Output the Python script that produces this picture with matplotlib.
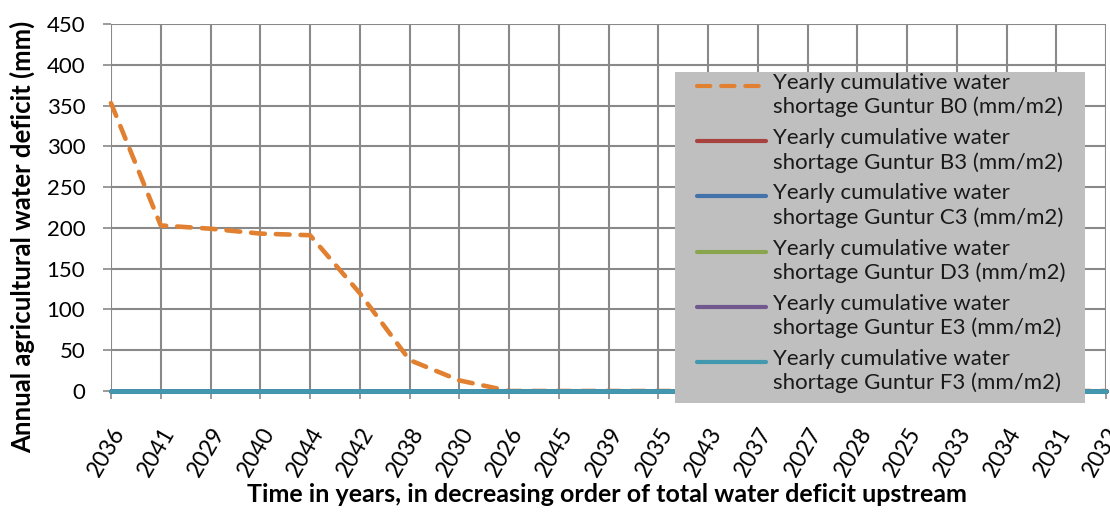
import matplotlib
matplotlib.use('Agg')
import matplotlib.pyplot as plt
import matplotlib.transforms as mtransforms
from matplotlib.lines import Line2D
from matplotlib.patches import Rectangle

plt.rcParams['font.family'] = ['Lato', 'DejaVu Sans']

years = ['2036', '2041', '2029', '2040', '2044', '2042', '2038', '2030', '2026', '2045',
         '2039', '2035', '2043', '2037', '2027', '2028', '2025', '2033', '2034', '2031', '2032']
b0 = [353, 203, 199, 193, 191, 120, 38, 13, 0, 0, 0, 0, 0, 0, 0, 0, 0, 0, 0, 0, 0]
b3 = [0, 0, 0, 0, 0, 0, 0, 0, 0, 0, 0, 0, 0, 0, 0, 0, 0, 0, 0, 0, 0]
c3 = [0, 0, 0, 0, 0, 0, 0, 0, 0, 0, 0, 0, 0, 0, 0, 0, 0, 0, 0, 0, 0]
d3 = [0, 0, 0, 0, 0, 0, 0, 0, 0, 0, 0, 0, 0, 0, 0, 0, 0, 0, 0, 0, 0]
e3 = [0, 0, 0, 0, 0, 0, 0, 0, 0, 0, 0, 0, 0, 0, 0, 0, 0, 0, 0, 0, 0]
f3 = [0, 0, 0, 0, 0, 0, 0, 0, 0, 0, 0, 0, 0, 0, 0, 0, 0, 0, 0, 0, 0]
series = [b0, b3, c3, d3, e3, f3]
names = ['Yearly cumulative water\nshortage Guntur B0 (mm/m2)',
         'Yearly cumulative water\nshortage Guntur B3 (mm/m2)',
         'Yearly cumulative water\nshortage Guntur C3 (mm/m2)',
         'Yearly cumulative water\nshortage Guntur D3 (mm/m2)',
         'Yearly cumulative water\nshortage Guntur E3 (mm/m2)',
         'Yearly cumulative water\nshortage Guntur F3 (mm/m2)']
colors = ['#E08030', '#A8423F', '#4372AA', '#89A54E', '#71588F', '#4198AF']
yticks = [0, 50, 100, 150, 200, 250, 300, 350, 400, 450]

W, H = 1110, 518
fig = plt.figure(figsize=(W / 100, H / 100), dpi=100)
ax = fig.add_axes([111 / W, 1 - 391 / H, 995 / W, 367 / H])

x = list(range(len(years)))
grid_c = '#898989'
for i, (s, c) in enumerate(zip(series, colors)):
    if i == 0:
        ax.plot(x, s, color=c, lw=3.3, dashes=(3.0, 2.4), dash_capstyle='round',
                solid_capstyle='round', zorder=3, clip_on=False)
    else:
        ax.plot(x, s, color=c, lw=3.4, solid_capstyle='round', zorder=3, clip_on=False)

ax.set_xlim(0, len(years) - 1)
ax.set_ylim(0, 450)
ax.set_yticks(yticks)
ax.set_yticklabels([str(v) for v in yticks], fontsize=16)
ax.set_xticks(x)
ax.set_xticklabels(years, rotation=60, ha='right', rotation_mode='anchor', fontsize=16.5)
shift = mtransforms.ScaledTranslation(-4 / 100, 0, fig.dpi_scale_trans)
for lab in ax.get_xticklabels():
    lab.set_transform(lab.get_transform() + shift)
ax.grid(True, color=grid_c, lw=1.5)
ax.set_axisbelow(True)
for sp in ax.spines.values():
    sp.set_visible(False)
ax.tick_params(axis='both', color=grid_c, width=1.2, length=5.5)
ax.tick_params(axis='y', pad=13)
ax.tick_params(axis='x', pad=18)

ax.set_ylabel('Annual agricultural water deficit (mm)', fontsize=18.5, fontweight='bold',
              va='center', ha='center')
ax.yaxis.set_label_coords((22 - 111) / 995, (391 - 237) / 367)
ax.set_xlabel('Time in years, in decreasing order of total water deficit upstream',
              fontsize=18, fontweight='bold', va='center', ha='center')
ax.xaxis.set_label_coords((607 - 111) / 995, (391 - 494) / 367)

# legend box (Excel style, grey background)
tf = fig.transFigure
def fx(px):
    return px / W
def fy(py):
    return 1 - py / H

rect = Rectangle((fx(675), fy(403)), fx(1085) - fx(675), fy(72) - fy(403),
                 transform=tf, facecolor='#BFBFBF', edgecolor='none', zorder=10)
fig.patches.append(rect)
for i, (nm, c) in enumerate(zip(names, colors)):
    yc = 86 + i * 55.2
    if i == 0:
        ln = Line2D([fx(697), fx(766)], [fy(yc), fy(yc)], transform=tf, color=c, lw=3.0,
                    dashes=(3.2, 2.6), dash_capstyle='round', zorder=11)
    else:
        ln = Line2D([fx(697), fx(766)], [fy(yc), fy(yc)], transform=tf, color=c, lw=3.0,
                    solid_capstyle='round', zorder=11)
    fig.lines.append(ln)
    fig.text(fx(773), fy(yc - 13), nm, transform=tf, fontsize=16, va='top', ha='left',
             linespacing=1.23, color='#1a1a1a', zorder=12)

fig.savefig('out.png', dpi=100)
